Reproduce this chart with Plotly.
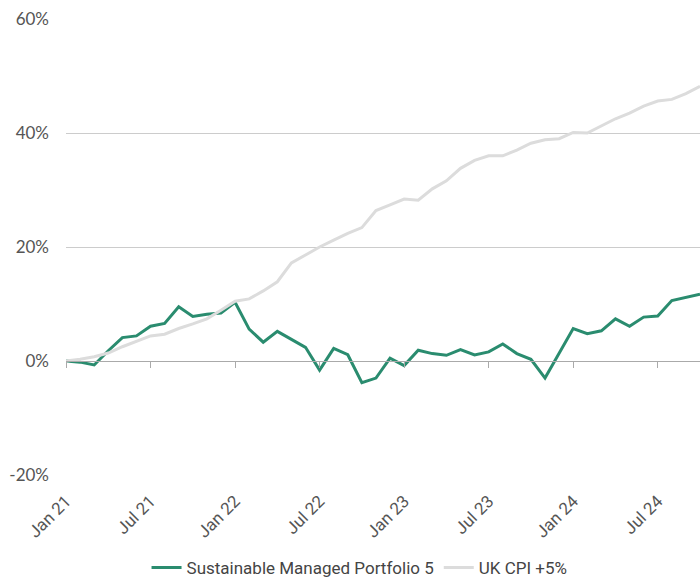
import plotly.graph_objects as go

months = ["Jan", "Feb", "Mar", "Apr", "May", "Jun", "Jul", "Aug", "Sep", "Oct", "Nov", "Dec"]
categories = [f"{m} {y}" for y in ["21", "22", "23", "24"] for m in months][:46]

portfolio = [0.0, -0.2, -0.7, 1.8, 4.1, 4.4, 6.1, 6.6, 9.5, 7.8, 8.2, 8.4,
             10.3, 5.6, 3.3, 5.2, 3.8, 2.4, -1.6, 2.2, 1.1, -3.8, -3.0, 0.5,
             -0.8, 1.9, 1.3, 1.0, 2.0, 1.05, 1.6, 3.0, 1.3, 0.3, -3.0, 1.4,
             5.7, 4.8, 5.3, 7.4, 6.1, 7.7, 7.9, 10.6, 11.1, 11.7]
cpi_plus5 = [0.0, 0.3, 0.75, 1.4, 2.5, 3.5, 4.4, 4.7, 5.7, 6.5, 7.4, 8.9,
             10.5, 10.9, 12.3, 13.9, 17.2, 18.6, 20.0, 21.2, 22.4, 23.4, 26.4, 27.4,
             28.4, 28.2, 30.2, 31.6, 33.8, 35.2, 36.0, 36.0, 37.0, 38.2, 38.8, 39.0,
             40.1, 40.0, 41.3, 42.5, 43.5, 44.7, 45.6, 45.9, 46.9, 48.2]
tick_labels = ["Jan 21", "Jul 21", "Jan 22", "Jul 22", "Jan 23", "Jul 23", "Jan 24", "Jul 24"]
y_ticks = [-20, 0, 20, 40, 60]
y_tick_text = ["-20%", "0%", "20%", "40%", "60%"]

GREEN = "#2a8c6f"
GREY = "#dcdcdc"

fig = go.Figure()
fig.add_trace(go.Scatter(x=categories, y=portfolio, mode="lines",
                         name="Sustainable Managed Portfolio 5",
                         line=dict(color=GREEN, width=3)))
fig.add_trace(go.Scatter(x=categories, y=cpi_plus5, mode="lines",
                         name="UK CPI +5%",
                         line=dict(color=GREY, width=3)))
# helper trace for the zero-line axis with ticks
fig.add_trace(go.Scatter(x=categories, y=[None] * len(categories), xaxis="x2",
                         showlegend=False, hoverinfo="skip", mode="lines"))

fig.update_layout(
    width=700, height=580,
    margin=dict(l=66, r=0, t=19, b=105, autoexpand=False),
    paper_bgcolor="white", plot_bgcolor="white",
    showlegend=True,
    legend=dict(orientation="h", x=0.463, xanchor="center", y=-0.204, yanchor="middle",
                font=dict(family="Roboto", size=17, color="#444444"),
                traceorder="normal"),
    xaxis=dict(type="category", categoryorder="array", categoryarray=categories,
               range=[0, 45], tickmode="array", tickvals=tick_labels, ticktext=tick_labels,
               tickangle=-45, showgrid=False, showline=False, zeroline=False, ticks="",
               automargin=False, ticklabelstandoff=12,
               tickfont=dict(family="Roboto", size=17, color="#555555")),
    xaxis2=dict(type="category", categoryorder="array", categoryarray=categories,
                overlaying="x", matches="x", anchor="free", position=0.25,
                tickmode="array", tickvals=tick_labels, showticklabels=False,
                showline=True, linecolor="#aaaaaa", linewidth=1,
                ticks="outside", ticklen=6, tickcolor="#aaaaaa", tickwidth=1,
                showgrid=False, zeroline=False, automargin=False),
    yaxis=dict(range=[-20, 60], tickmode="array", tickvals=y_ticks, ticktext=y_tick_text,
               gridcolor="#cccccc", gridwidth=1, zeroline=False, showline=False,
               ticklabelstandoff=16, automargin=False,
               tickfont=dict(family="Lato", size=17, color="#555555")),
)

fig.write_html("out.html", config={"displayModeBar": False},
               post_script="document.body.style.margin='0';document.body.style.overflow='hidden';")
